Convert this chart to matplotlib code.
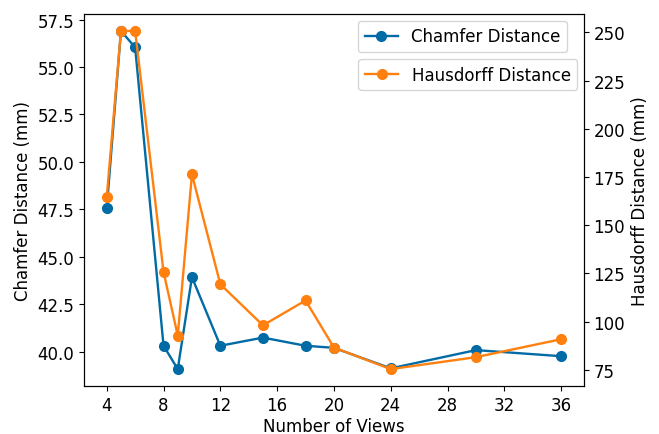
import matplotlib
matplotlib.use('Agg')
import matplotlib.pyplot as plt

plt.style.use('tableau-colorblind10')
plt.rcParams['font.size'] = 12

views = [4, 5, 6, 8, 9, 10, 12, 15, 18, 20, 24, 30, 36]
chamfer = [47.55, 56.9, 56.03, 40.32, 39.09, 43.93, 40.32, 40.75, 40.32, 40.21, 39.13, 40.09, 39.77]
hausdorff = [164.6, 250.8, 250.8, 125.8, 92.8, 176.4, 119.4, 98.1, 111.0, 86.6, 75.4, 81.6, 90.9]
xticks = [4, 8, 12, 16, 20, 24, 28, 32, 36]

fig, ax1 = plt.subplots(figsize=(6.59, 4.35), dpi=100)
fig.subplots_adjust(left=0.1275, right=0.886, top=0.9655, bottom=0.1103)

ax1.plot(views, chamfer, marker='o', color='C0', lw=1.7, ms=7, label='Chamfer Distance')
ax1.set_xlabel('Number of Views', labelpad=2)
ax1.set_ylabel('Chamfer Distance (mm)')
ax1.set_xticks(xticks)

ax2 = ax1.twinx()
ax2.plot(views, hausdorff, marker='o', color='C1', lw=1.7, ms=7, label='Hausdorff Distance')
ax2.set_ylabel('Hausdorff Distance (mm)')

ax1.legend(loc='upper right', bbox_to_anchor=(0.967, 0.982), borderaxespad=0)
ax2.legend(loc='upper right', bbox_to_anchor=(0.987, 0.879), borderaxespad=0)

plt.savefig('out.png', dpi=100)
